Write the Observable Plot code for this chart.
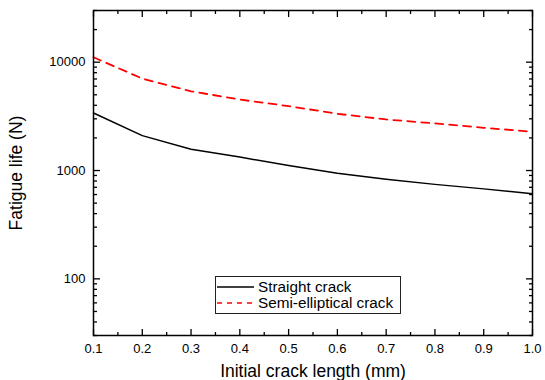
<!DOCTYPE html>
<html>
<head>
<meta charset="utf-8">
<script src="https://cdn.jsdelivr.net/npm/d3@7"></script>
<script src="https://cdn.jsdelivr.net/npm/@observablehq/plot@0.6"></script>
<style>
  body { margin: 0; background: #fff; }
  #wrap { position: relative; width: 545px; height: 380px; font-family: "Liberation Sans", Arial, sans-serif; }
  #legend { position: absolute; left: 215px; top: 276px; width: 186px; height: 38px; border: 1px solid #222; background: #fff; box-sizing: border-box; padding-top: 2px; }
  .row { display: flex; align-items: center; height: 16px; font-size: 15.3px; line-height: 16px; color: #000; white-space: nowrap; }
  .row svg { margin-left: 1px; margin-right: 4px; flex: none; }
</style>
</head>
<body>
<div id="wrap"></div>
<script>
// ---- data ----
const crackLength = [0.1, 0.2, 0.3, 0.4, 0.5, 0.6, 0.7, 0.8, 0.9, 1.0];
const straightLife = [3400, 2100, 1570, 1330, 1110, 945, 830, 745, 677, 611];
const semiEllipticalLife = [11100, 7060, 5390, 4520, 3930, 3340, 2960, 2720, 2480, 2280];
const seriesNames = ["Straight crack", "Semi-elliptical crack"];
const seriesColors = ["#000000", "#ff0000"];
const xMajorTicks = [0.1, 0.2, 0.3, 0.4, 0.5, 0.6, 0.7, 0.8, 0.9, 1.0];
const xMinorTicks = [0.15, 0.25, 0.35, 0.45, 0.55, 0.65, 0.75, 0.85, 0.95];
const yMajorTicks = [100, 1000, 10000];
const yMinorTicks = [30, 40, 50, 60, 70, 80, 90, 200, 300, 400, 500, 600, 700, 800, 900,
                     2000, 3000, 4000, 5000, 6000, 7000, 8000, 9000, 20000, 30000];
const xTitle = "Initial crack length (mm)";
const yTitle = "Fatigue life (N)";

const straightRows = crackLength.map((x, i) => ({x, y: straightLife[i]}));
const semiRows = crackLength.map((x, i) => ({x, y: semiEllipticalLife[i]}));
const blank = () => "";

const chart = Plot.plot({
  width: 545,
  height: 380,
  marginLeft: 93,
  marginRight: 13,
  marginTop: 10,
  marginBottom: 45,
  style: {fontFamily: "Liberation Sans, Arial, sans-serif", fontSize: "13px", color: "#000", background: "#fff"},
  x: {domain: [0.1, 1.0], label: null},
  y: {type: "log", domain: [30, 30000], label: null},
  marks: [
    Plot.line(straightRows, {x: "x", y: "y", stroke: seriesColors[0], strokeWidth: 1.5}),
    Plot.line(semiRows, {x: "x", y: "y", stroke: seriesColors[1], strokeWidth: 1.8, strokeDasharray: "8,6"}),
    // x axis bottom
    Plot.axisX(xMajorTicks, {anchor: "bottom", tickSize: -6, tickPadding: 14, tickFormat: d => d.toFixed(1),
      label: xTitle, labelAnchor: "center", labelOffset: 41, labelArrow: "none", fontSize: 13, strokeWidth: 1.3}),
    Plot.axisX(xMinorTicks, {anchor: "bottom", tickSize: -3, tickFormat: blank, label: null, strokeWidth: 1.3}),
    Plot.axisX(xMajorTicks, {anchor: "top", tickSize: -6, tickFormat: blank, label: null, strokeWidth: 1.3}),
    Plot.axisX(xMinorTicks, {anchor: "top", tickSize: -3, tickFormat: blank, label: null, strokeWidth: 1.3}),
    // y axis left
    Plot.axisY(yMajorTicks, {anchor: "left", tickSize: -7, tickPadding: 15, tickFormat: d => String(d),
      label: yTitle, labelAnchor: "center", labelOffset: 84, labelArrow: "none", fontSize: 13, strokeWidth: 1.3}),
    Plot.axisY(yMinorTicks, {anchor: "left", tickSize: -4, tickFormat: blank, label: null, strokeWidth: 1.3}),
    Plot.axisY(yMajorTicks, {anchor: "right", tickSize: -7, tickFormat: blank, label: null, strokeWidth: 1.3}),
    Plot.axisY(yMinorTicks, {anchor: "right", tickSize: -4, tickFormat: blank, label: null, strokeWidth: 1.3}),
    Plot.frame({stroke: "#000", strokeWidth: 1.5})
  ]
});

// axis titles: exact text, larger font
d3.select(chart).selectAll("g[aria-label='x-axis label'] text")
  .text(xTitle).style("font-size", "17.5px");
d3.select(chart).selectAll("g[aria-label='y-axis label'] text")
  .text(yTitle).style("font-size", "17.5px");

const wrap = document.getElementById("wrap");
wrap.appendChild(chart);

// legend
const legend = document.createElement("div");
legend.id = "legend";
seriesNames.forEach((name, i) => {
  const row = document.createElement("div");
  row.className = "row";
  const dash = i === 1 ? ' stroke-dasharray="5,5"' : "";
  row.innerHTML = `<svg width="37" height="10"><line x1="0" x2="37" y1="5" y2="5" stroke="${seriesColors[i]}" stroke-width="1.6"${dash}/></svg><span>${name}</span>`;
  legend.appendChild(row);
});
wrap.appendChild(legend);
</script>
</body>
</html>
